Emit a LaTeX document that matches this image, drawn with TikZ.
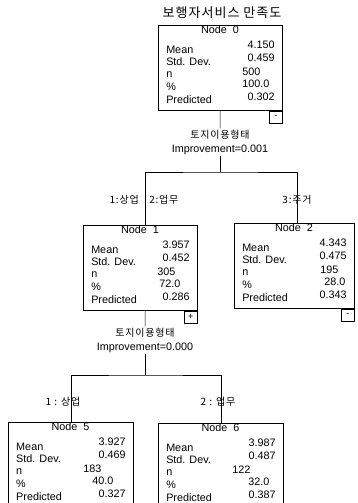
\documentclass[tikz,border=0pt]{standalone}
\usepackage{fontspec}
\setmainfont{Liberation Sans}
\newfontfamily\kr[LetterSpace=8]{Noto Sans CJK KR}

\tikzset{
  statbox/.style={draw, line width=0.5pt, anchor=north west, minimum height=85pt, inner sep=0pt},
  togglebox/.style={draw, line width=0.5pt, anchor=north east, minimum width=13pt, minimum height=12pt, inner sep=0pt, font=\fontsize{9}{9}\selectfont},
  stat/.style={inner sep=0pt, font=\fontsize{10.8}{12}\selectfont},
  split/.style={align=center, inner sep=1pt, font=\fontsize{10.8}{14}\selectfont},
  branch/.style={inner sep=0pt, font=\kr\fontsize{10}{12}\selectfont},
}

\begin{document}
\begin{tikzpicture}[x=1pt, y=-1pt, line width=0.5pt]
    \useasboundingbox (0,0) rectangle (357,503);
    \clip (0,0) rectangle (357,503);

    % Target variable
    \node[font=\kr\fontsize{13}{15}\selectfont] (title) at (222,13) {보행자서비스 만족도};

    % Node boxes: name/x/y/width/number/mean/sd/n/pct/pred/n-pos/pct-pos
    \foreach \nm/\px/\py/\w/\no/\mn/\sd/\nn/\pc/\pr/\nx/\cx in {
        n0/158/25/124/0/4.150/0.459/500/100.0/0.302/84/84,
        n1/83/225/114/1/3.957/0.452/305/72.0/0.286/74/76,
        n2/234/223/120/2/4.343/0.475/195/28.0/0.343/86/90,
        n5/8/422/125/5/3.927/0.469/183/40.0/0.327/75/84,
        n6/158/423/125/6/3.987/0.487/122/32.0/0.387/74/90}
    {
        \begin{scope}[shift={(\px,\py)}]
            \node[statbox, minimum width=\w pt] (\nm) at (0,0) {};
            \node[stat] at (\w/2,5) {Node\ \ \no};
            \node[stat, anchor=west] at (8,24.5) {Mean};
            \node[stat, anchor=west] at (8,37) {Std. Dev.};
            \node[stat, anchor=west] at (8,49.5) {n};
            \node[stat, anchor=west] at (8,62) {\%};
            \node[stat, anchor=west] at (8,74.5) {Predicted};
            \node[stat, anchor=east] at (\w-7,20) {\mn};
            \node[stat, anchor=east] at (\w-7,33) {\sd};
            \node[stat, anchor=west] at (\nx,46.5) {\nn};
            \node[stat, anchor=west] at (\cx,58.5) {\pc};
            \node[stat, anchor=east] at (\w-7,72) {\pr};
        \end{scope}
    }

    % Expand / collapse markers
    \node[togglebox] (t0) at (n0.south east) {-};
    \node[togglebox] (t1) at (n1.south east) {+};
    \node[togglebox] (t2) at (n2.south east) {-};

    % First split
    \node[split] (s0) at (220,142) {{\kr\fontsize{10}{14}\selectfont 토지이용형태}\\Improvement=0.001};
    \coordinate (j0) at (220,172);
    \draw (n0.south) -- (s0.north);
    \draw (s0.south) -- (j0);
    \draw ([xshift=5pt]n1.north) |- (j0) -| ([xshift=3pt]n2.north);
    \node[branch, anchor=east] (b1) at (139,200) {1:상업};
    \node[branch, anchor=west] (b2) at (149,200) {2:업무};
    \node[branch] (b3) at (297,200) {3:주거};

    % Second split
    \node[split] (s1) at (145,340) {{\kr\fontsize{10}{14}\selectfont 토지이용형태}\\Improvement=0.000};
    \coordinate (j1) at (145,375);
    \draw ([xshift=5pt]n1.south) -- (s1.north);
    \draw (s1.south) -- (j1);
    \draw (n5.north) |- (j1) -| (n6.north);
    \node[branch] (b5) at (63,402) {1 : 상업};
    \node[branch] (b6) at (218,402) {2 : 업무};

\end{tikzpicture}
\end{document}
